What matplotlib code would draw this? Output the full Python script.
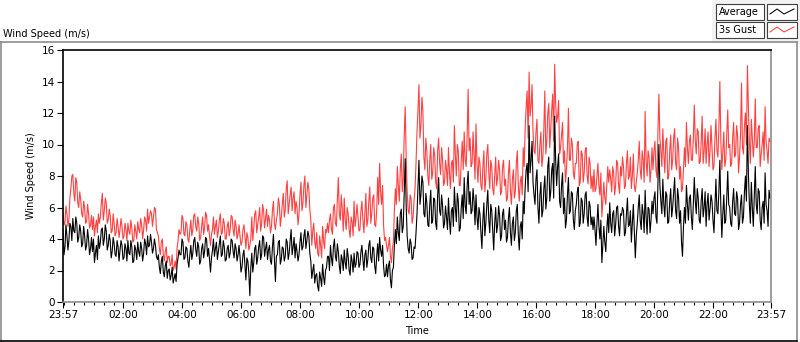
import numpy as np
import matplotlib
matplotlib.use("Agg")
import matplotlib.pyplot as plt
from matplotlib.lines import Line2D
from matplotlib.patches import Rectangle

# 2-minute samples starting 23:57, one row per hour
average = [
    4.6, 3.0, 3.5, 4.9, 4.2, 3.3, 3.9, 5.0, 4.8, 3.9, 5.3, 4.5, 4.4, 5.4, 5.0, 3.8, 4.1, 4.9, 4.5, 3.5, 3.7, 4.8, 4.2, 3.3, 3.6, 4.6, 4.0, 3.0, 3.4, 4.1,
    3.2, 4.0, 2.5, 3.1, 3.6, 2.7, 4.2, 3.4, 3.8, 4.6, 4.7, 3.6, 4.0, 4.9, 4.5, 3.3, 3.6, 4.3, 3.9, 2.8, 3.2, 4.1, 3.7, 3.0, 2.9, 3.9, 3.5, 2.6, 3.3, 3.9,
    3.6, 2.7, 2.8, 3.7, 3.4, 2.6, 3.9, 3.1, 3.0, 3.9, 3.5, 2.5, 2.6, 3.6, 3.3, 2.7, 3.8, 3.2, 2.9, 3.8, 3.4, 2.6, 3.1, 4.0, 3.7, 3.0, 4.2, 3.5, 3.6, 4.3,
    3.8, 3.1, 3.4, 4.0, 3.6, 2.9, 2.7, 3.0, 2.2, 1.8, 2.6, 2.9, 1.9, 1.6, 2.3, 2.6, 1.5, 2.0, 2.1, 1.4, 1.7, 2.2, 1.2, 1.5, 1.8, 1.3, 2.4, 2.8, 3.3, 3.0,
    3.0, 4.0, 3.8, 2.7, 2.8, 3.5, 3.4, 2.6, 2.2, 3.0, 3.6, 2.7, 3.1, 3.9, 4.1, 3.3, 2.9, 3.8, 3.5, 2.4, 2.6, 3.4, 3.7, 2.8, 3.2, 4.1, 4.0, 2.9, 3.4, 2.7,
    1.9, 2.8, 3.3, 4.0, 2.9, 3.4, 3.8, 2.7, 3.2, 3.7, 4.2, 2.9, 3.0, 3.9, 3.5, 2.6, 2.7, 3.4, 3.6, 2.8, 3.1, 4.0, 3.9, 3.2, 2.8, 3.7, 3.4, 2.6, 3.0, 3.6,
    2.9, 1.9, 2.2, 3.0, 3.3, 2.4, 1.4, 2.8, 2.6, 1.8, 0.4, 2.2, 3.1, 1.9, 2.5, 3.4, 3.6, 2.4, 2.8, 3.5, 3.9, 2.7, 3.0, 4.2, 4.1, 2.9, 3.4, 3.8, 2.7, 3.3,
    3.6, 2.6, 2.4, 3.5, 4.3, 2.7, 1.3, 2.9, 3.0, 3.8, 3.9, 2.4, 2.7, 3.5, 3.4, 2.6, 2.9, 4.0, 3.8, 2.7, 3.1, 3.9, 4.6, 3.0, 3.5, 4.1, 2.8, 3.7, 3.2, 2.6,
    3.0, 3.8, 4.4, 3.3, 3.5, 4.2, 4.6, 3.4, 3.9, 4.5, 4.2, 3.1, 2.6, 1.5, 2.0, 2.4, 1.2, 1.7, 1.8, 1.0, 0.7, 1.9, 1.5, 1.0, 2.4, 1.6, 1.1, 2.0, 2.2, 2.9,
    2.9, 2.0, 3.6, 2.8, 2.3, 3.5, 4.0, 2.9, 2.6, 3.7, 3.2, 2.3, 1.8, 3.0, 2.7, 2.0, 3.3, 2.5, 2.1, 3.4, 2.9, 2.0, 1.7, 3.0, 2.6, 1.9, 3.1, 2.2, 2.4, 3.2,
    3.1, 2.2, 2.4, 3.2, 3.6, 2.7, 2.0, 3.0, 3.3, 2.2, 2.7, 3.6, 3.9, 2.8, 2.5, 3.5, 3.4, 2.3, 1.8, 2.9, 3.7, 2.6, 4.1, 3.3, 2.9, 3.6, 2.3, 1.6, 1.7, 2.4,
    1.6, 2.3, 2.6, 1.4, 0.9, 2.0, 2.2, 3.6, 4.6, 3.7, 5.4, 4.4, 3.9, 5.6, 5.9, 4.4, 4.8, 7.0, 9.1, 6.1, 4.2, 3.4, 3.1, 4.0, 3.7, 2.7, 2.8, 3.5, 3.4, 4.4,
    5.6, 7.4, 9.0, 6.2, 6.8, 8.0, 7.6, 5.6, 5.4, 6.9, 6.3, 4.9, 4.8, 6.2, 7.1, 5.0, 5.2, 6.6, 6.5, 5.0, 4.6, 6.8, 7.9, 5.8, 5.5, 6.8, 6.1, 4.7, 5.0, 6.1,
    5.4, 4.6, 6.6, 5.2, 4.3, 5.8, 6.0, 4.8, 7.3, 6.0, 5.1, 6.9, 6.4, 4.5, 4.7, 6.0, 6.8, 5.3, 7.9, 6.1, 5.6, 7.4, 8.3, 6.2, 7.0, 5.6, 5.8, 7.2, 6.4, 4.9,
    6.8, 5.4, 4.6, 6.0, 5.6, 4.4, 3.4, 5.2, 6.3, 4.2, 5.0, 6.2, 7.1, 5.2, 4.4, 6.2, 5.8, 4.5, 3.3, 5.0, 6.0, 4.4, 4.9, 6.1, 5.5, 3.9, 4.2, 5.6, 5.9, 4.6,
    5.2, 3.8, 4.1, 5.3, 6.0, 4.4, 3.6, 5.0, 5.4, 3.9, 4.4, 5.8, 6.2, 4.3, 3.3, 4.8, 5.1, 4.0, 6.4, 5.6, 7.3, 8.4, 8.8, 7.0, 11.2, 8.2, 9.0, 10.2, 7.6, 6.8,
    6.2, 7.8, 8.4, 6.0, 5.0, 6.8, 7.6, 5.4, 5.8, 7.2, 8.0, 5.9, 6.6, 8.6, 9.2, 6.4, 7.0, 8.4, 8.8, 6.6, 11.8, 9.0, 7.4, 8.6, 9.4, 6.4, 6.0, 7.4, 8.2, 5.6,
    6.6, 4.7, 5.2, 6.8, 7.9, 5.6, 5.8, 7.0, 6.9, 5.2, 4.6, 5.8, 6.2, 7.0, 7.3, 4.8, 5.0, 6.6, 6.4, 5.0, 5.6, 6.8, 7.0, 5.4, 4.8, 6.4, 6.1, 4.9, 5.4, 4.6,
    5.4, 4.6, 3.6, 5.0, 6.2, 4.8, 4.0, 5.2, 2.5, 3.6, 4.8, 3.8, 3.2, 4.6, 5.6, 4.4, 6.3, 5.0, 4.4, 5.6, 5.8, 4.2, 4.9, 6.0, 6.1, 4.8, 4.2, 5.6, 5.5, 6.0,
    5.8, 4.2, 4.4, 5.6, 6.6, 4.8, 4.9, 5.8, 3.8, 5.0, 6.2, 4.4, 2.8, 4.2, 5.0, 6.0, 6.8, 5.2, 4.6, 6.2, 5.6, 4.4, 7.1, 5.4, 4.3, 6.0, 5.9, 4.4, 5.2, 6.4,
    5.6, 6.6, 7.0, 5.4, 5.0, 7.6, 10.0, 7.4, 6.4, 5.6, 7.8, 6.2, 5.4, 7.0, 6.8, 5.0, 5.1, 6.4, 7.2, 5.4, 6.0, 7.0, 7.9, 5.8, 5.3, 7.2, 6.6, 5.0, 5.8, 3.8,
    2.9, 4.8, 6.0, 5.0, 7.4, 6.2, 5.2, 6.6, 6.8, 5.4, 4.6, 6.2, 7.9, 6.4, 5.6, 7.2, 6.6, 5.2, 5.0, 6.4, 7.2, 5.4, 6.0, 7.0, 4.8, 6.2, 6.9, 5.2, 5.9, 6.8,
    6.4, 5.2, 4.4, 6.2, 7.8, 5.8, 5.6, 7.0, 9.0, 6.0, 4.1, 5.6, 6.8, 5.0, 5.2, 6.6, 8.3, 6.2, 6.0, 5.0, 4.8, 6.4, 7.2, 5.6, 5.5, 7.0, 6.6, 4.6, 5.0, 6.2,
    6.8, 5.0, 5.4, 7.0, 8.0, 6.4, 11.2, 8.2, 6.2, 5.0, 7.6, 6.0, 4.8, 6.6, 8.6, 6.2, 5.6, 7.2, 7.0, 5.2, 4.6, 6.0, 6.4, 5.0, 8.2, 6.2, 5.8, 4.8, 7.1, 6.6,
]

gust = [
    5.8, 4.9, 5.0, 6.1, 5.6, 4.8, 5.2, 6.6, 7.2, 8.0, 8.1, 6.9, 6.4, 7.9, 7.6, 6.3, 6.0, 7.0, 6.5, 5.6, 5.4, 6.4, 6.0, 5.0, 5.1, 6.2, 5.6, 4.7, 4.9, 5.5,
    4.6, 5.4, 4.2, 4.8, 5.2, 4.4, 5.6, 5.0, 5.4, 6.3, 6.9, 5.2, 5.8, 6.6, 6.3, 5.0, 5.2, 5.9, 5.5, 4.4, 4.5, 5.6, 5.0, 4.2, 4.4, 5.3, 4.8, 4.1, 4.6, 5.3,
    4.8, 4.0, 4.2, 5.0, 4.6, 3.9, 5.0, 4.5, 4.3, 5.2, 4.7, 3.8, 3.9, 4.9, 4.5, 4.0, 5.1, 4.6, 4.4, 5.3, 4.9, 4.0, 4.6, 5.4, 5.2, 4.5, 5.9, 5.0, 5.4, 5.8,
    5.6, 4.8, 5.4, 6.0, 5.9, 4.6, 4.4, 4.2, 3.4, 3.0, 3.8, 4.0, 3.0, 2.6, 3.2, 3.5, 2.5, 2.9, 2.9, 2.3, 2.4, 3.0, 2.0, 2.2, 2.6, 2.1, 3.4, 3.9, 4.6, 4.3,
    4.4, 5.5, 5.3, 4.3, 4.2, 5.1, 4.9, 4.0, 3.8, 4.6, 5.2, 4.2, 4.6, 5.5, 5.6, 4.8, 4.5, 5.4, 5.0, 3.9, 4.1, 4.8, 5.4, 4.3, 4.7, 5.7, 5.5, 4.5, 4.9, 4.2,
    3.6, 4.3, 4.6, 5.4, 4.3, 4.8, 5.2, 4.1, 4.5, 5.2, 5.6, 4.3, 4.4, 5.3, 5.0, 4.0, 4.0, 4.8, 5.1, 4.2, 4.6, 5.5, 5.4, 4.6, 4.2, 5.2, 4.8, 4.0, 4.3, 4.9,
    4.2, 3.6, 3.8, 4.6, 4.9, 4.2, 3.4, 4.4, 4.1, 3.3, 3.6, 4.0, 5.4, 3.9, 4.7, 5.6, 5.8, 4.4, 4.9, 5.4, 6.0, 4.5, 5.0, 6.2, 5.8, 4.7, 5.3, 5.9, 4.8, 5.5,
    5.2, 4.4, 4.8, 5.8, 6.4, 5.0, 4.6, 5.2, 5.6, 6.6, 6.2, 4.8, 5.4, 6.2, 6.9, 5.4, 5.8, 7.2, 7.7, 5.6, 6.2, 6.8, 7.3, 5.8, 6.6, 7.0, 5.6, 6.4, 6.0, 4.9,
    5.6, 6.8, 7.6, 5.8, 6.3, 7.4, 8.0, 6.0, 6.8, 7.6, 7.2, 5.9, 5.2, 3.6, 4.5, 5.0, 3.8, 3.4, 4.4, 3.1, 2.9, 4.2, 3.6, 2.8, 4.8, 3.9, 3.4, 4.6, 4.4, 5.0,
    4.4, 5.2, 5.6, 4.6, 4.3, 6.0, 6.2, 5.0, 4.8, 6.5, 7.9, 5.6, 5.2, 6.8, 5.9, 4.5, 6.6, 5.2, 4.6, 6.0, 5.6, 4.6, 4.1, 5.4, 5.1, 4.2, 6.4, 4.8, 5.3, 6.2,
    5.4, 4.5, 4.6, 5.8, 6.4, 5.2, 4.4, 5.6, 6.9, 4.8, 5.2, 6.4, 7.3, 5.0, 5.6, 6.6, 6.8, 4.9, 4.8, 5.8, 7.9, 6.2, 8.8, 7.0, 6.2, 7.4, 4.9, 3.9, 4.1, 3.6,
    3.2, 3.6, 4.1, 2.9, 2.5, 3.4, 3.8, 5.8, 7.2, 6.2, 8.6, 7.4, 6.4, 8.4, 9.4, 7.0, 7.8, 10.6, 12.4, 9.2, 7.0, 5.8, 5.6, 6.8, 6.6, 5.0, 5.4, 6.4, 7.2, 8.8,
    10.8, 12.2, 13.8, 10.4, 11.2, 13.0, 12.1, 9.2, 8.4, 10.4, 9.6, 8.0, 7.4, 9.0, 10.0, 7.8, 8.2, 9.8, 9.3, 7.6, 7.2, 9.6, 10.4, 8.8, 8.1, 9.8, 9.0, 7.4, 7.6, 9.0,
    8.4, 7.4, 9.8, 8.2, 7.2, 8.8, 9.0, 7.6, 11.2, 9.4, 8.0, 10.0, 9.6, 7.4, 7.4, 9.0, 10.2, 8.4, 10.8, 9.0, 8.6, 10.6, 13.5, 9.6, 10.4, 8.6, 8.8, 10.8, 9.4, 7.8,
    11.3, 8.8, 7.6, 9.2, 8.8, 7.4, 7.1, 8.6, 9.6, 7.0, 7.8, 9.4, 10.0, 8.2, 7.2, 9.0, 8.6, 7.2, 6.8, 8.0, 9.2, 7.4, 7.9, 9.0, 8.4, 6.8, 7.0, 8.6, 9.0, 7.4,
    7.8, 6.4, 6.6, 8.2, 9.0, 7.0, 6.2, 7.8, 8.4, 6.6, 7.0, 8.8, 9.6, 7.4, 6.4, 7.6, 8.0, 6.8, 9.8, 8.6, 11.0, 12.4, 13.4, 10.4, 14.6, 11.8, 12.4, 13.8, 10.8, 9.6,
    9.4, 10.8, 11.6, 9.0, 8.8, 10.0, 10.8, 8.6, 9.2, 11.0, 13.4, 9.4, 10.2, 12.0, 12.6, 9.8, 11.0, 12.2, 13.2, 10.2, 15.1, 12.6, 11.4, 11.8, 12.8, 9.4, 9.8, 10.6, 11.4, 8.8,
    9.6, 7.6, 8.4, 9.8, 12.3, 9.0, 9.0, 10.4, 10.0, 8.2, 7.8, 8.8, 8.8, 10.0, 10.2, 7.4, 7.6, 9.6, 9.4, 7.6, 8.2, 9.6, 9.8, 8.0, 7.5, 9.2, 8.8, 7.2, 8.0, 7.0,
    8.4, 7.0, 7.2, 8.0, 8.8, 7.4, 6.8, 8.2, 5.4, 6.4, 7.6, 6.6, 6.2, 7.4, 8.6, 7.6, 8.4, 7.8, 7.0, 8.6, 8.2, 6.8, 7.4, 9.0, 8.8, 7.4, 6.9, 8.6, 8.0, 9.2,
    8.6, 7.2, 7.4, 8.8, 9.6, 7.8, 8.0, 9.2, 7.2, 8.0, 9.4, 7.4, 7.0, 7.6, 8.2, 9.0, 10.2, 8.4, 7.8, 9.6, 9.0, 7.6, 12.1, 9.0, 8.0, 9.6, 9.2, 7.6, 8.4, 9.8,
    8.4, 9.6, 10.2, 8.4, 7.9, 10.8, 13.2, 10.4, 9.6, 8.6, 11.0, 9.4, 8.2, 10.2, 10.4, 7.8, 8.0, 9.6, 10.6, 8.4, 9.0, 10.4, 11.0, 8.8, 8.4, 10.4, 9.8, 7.8, 8.6, 7.0,
    7.2, 8.4, 9.8, 8.6, 11.4, 9.8, 8.8, 10.2, 10.6, 9.0, 9.0, 10.4, 12.5, 10.2, 9.4, 11.0, 10.8, 8.8, 8.9, 10.2, 11.8, 8.8, 9.6, 11.0, 8.8, 10.0, 10.8, 8.6, 9.6, 11.2,
    9.8, 8.4, 8.6, 10.4, 11.6, 9.6, 9.2, 11.0, 14.0, 10.2, 8.4, 9.6, 10.8, 8.6, 9.0, 10.6, 12.2, 9.8, 10.0, 8.6, 8.8, 10.4, 11.4, 9.2, 9.4, 11.2, 10.6, 8.2, 9.2, 10.6,
    13.9, 9.8, 9.4, 11.2, 12.0, 10.0, 15.0, 12.4, 10.2, 8.8, 11.6, 10.4, 9.2, 10.2, 12.9, 9.8, 9.8, 11.0, 11.2, 8.6, 9.4, 10.0, 10.8, 9.0, 12.4, 10.2, 9.6, 8.8, 10.4, 10.2,
]

tick_labels = ["23:57", "02:00", "04:00", "06:00", "08:00", "10:00", "12:00",
               "14:00", "16:00", "18:00", "20:00", "22:00", "23:57"]
SPAN = 1440  # minutes, 23:57 -> 23:57
STEP = 2
RED = "#ff4040"
GRAY = "#8c8c8c"
FS = 7

minutes = np.arange(len(average)) * STEP
major = [0] + [123 + 120 * k for k in range(11)] + [SPAN]
minor = np.arange(3, SPAN, 20)

fig = plt.figure(figsize=(8, 3.42), dpi=100)
ax = fig.add_axes([63 / 800, 40 / 342, 708 / 800, 252 / 342])

ax.plot(minutes, gust, color=RED, lw=0.8)
ax.plot(minutes, average, color="black", lw=0.8)

ax.set_xlim(0, SPAN)
ax.set_ylim(0, 16)
ax.set_yticks(range(0, 17, 2))
ax.set_xticks(major)
ax.set_xticklabels(tick_labels)
ax.set_xticks(minor, minor=True)
ax.tick_params(axis="both", which="major", direction="out", length=4, width=0.8,
               labelsize=7.5, pad=2, color="black")
ax.tick_params(axis="x", which="minor", direction="out", length=2.5, width=0.8)
ax.set_xlabel("Time", fontsize=FS, labelpad=4)
ax.set_ylabel("Wind Speed (m/s)", fontsize=FS, labelpad=4)

for side in ("left", "top"):
    ax.spines[side].set_color("black")
    ax.spines[side].set_linewidth(1.2)
for side in ("right", "bottom"):
    ax.spines[side].set_color(GRAY)
    ax.spines[side].set_linewidth(1.2)

# outer panel frame
fig.add_artist(Line2D([0, 797 / 800], [300 / 342, 300 / 342], color=GRAY, lw=1.2))
fig.add_artist(Line2D([797 / 800, 797 / 800], [1 / 342, 300 / 342], color=GRAY, lw=1.2))
fig.add_artist(Line2D([0.6 / 800, 0.6 / 800], [1 / 342, 300 / 342], color=GRAY, lw=1.2))
fig.add_artist(Line2D([0, 797 / 800], [0.8 / 342, 0.8 / 342], color="black", lw=1.2))

fig.text(3 / 800, 1 - 34 / 342, "Wind Speed (m/s)", fontsize=FS, va="center", ha="left")

# legend built as in the LabVIEW plot legend
fig.add_artist(Rectangle((712 / 800, 300 / 342), 88 / 800, 42 / 342,
                         facecolor="#f2f2f2", edgecolor="none", transform=fig.transFigure))
for i, (name, col) in enumerate([("Average", "black"), ("3s Gust", RED)]):
    top = 4 + 18 * i
    y0 = 1 - (top + 16) / 342
    fig.add_artist(Rectangle((716 / 800, y0), 48 / 800, 16 / 342, facecolor="white",
                             edgecolor="#404040", lw=0.8, transform=fig.transFigure))
    fig.add_artist(Rectangle((767 / 800, y0), 30 / 800, 16 / 342, facecolor="white",
                             edgecolor="#404040", lw=0.8, transform=fig.transFigure))
    fig.text(719 / 800, y0 + 8 / 342, name, fontsize=FS, va="center", ha="left")
    xs = np.array([770, 777, 784, 794]) / 800
    ys = y0 + np.array([6, 11, 6, 11]) / 342
    fig.add_artist(Line2D(xs, ys, color=col, lw=0.75))

fig.savefig("out.png", dpi=100)
